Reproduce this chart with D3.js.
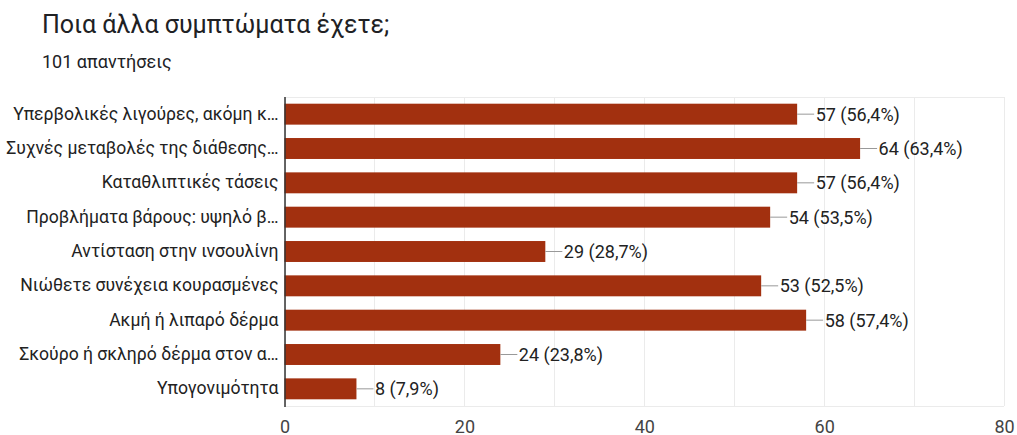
<!DOCTYPE html>
<html>
<head>
<meta charset="utf-8">
<script src="https://cdn.jsdelivr.net/npm/d3@7/dist/d3.min.js"></script>
<style>
  html, body { margin: 0; padding: 0; background: #fff; }
  svg { display: block; font-family: Roboto, "Noto Sans", Arial, sans-serif; }
</style>
</head>
<body>
<svg id="chart" width="1017" height="435"></svg>
<script>
// Survey answers: symptom labels (as shown, truncated), counts and percentages
const categories = [
  "Υπερβολικές λιγούρες, ακόμη κ…",
  "Συχνές μεταβολές της διάθεσης…",
  "Καταθλιπτικές τάσεις",
  "Προβλήματα βάρους: υψηλό β…",
  "Αντίσταση στην ινσουλίνη",
  "Νιώθετε συνέχεια κουρασμένες",
  "Ακμή ή λιπαρό δέρμα",
  "Σκούρο ή σκληρό δέρμα στον α…",
  "Υπογονιμότητα"
];
const counts = [57, 64, 57, 54, 29, 53, 58, 24, 8];
const percents = ["56,4%", "63,4%", "56,4%", "53,5%", "28,7%", "52,5%", "57,4%", "23,8%", "7,9%"];
const tickValues = [0, 20, 40, 60, 80];
const gridValues = [0, 10, 20, 30, 40, 50, 60, 70, 80];

const title = "Ποια άλλα συμπτώματα έχετε;";
const subtitle = "101 απαντήσεις";

const svg = d3.select("#chart");
const margin = { left: 284.5, right: 13, top: 97, bottom: 29 };
const W = 1017, H = 435;

const x = d3.scaleLinear().domain([0, 80]).range([margin.left, W - margin.right]);
const y = d3.scaleBand().domain(categories).range([margin.top, H - margin.bottom]).paddingInner(0.39).paddingOuter(0.195);

// Heading
svg.append("text").attr("x", 42).attr("y", 32.5)
  .attr("font-size", 25).attr("fill", "#202124").text(title);
svg.append("text").attr("x", 42).attr("y", 68)
  .attr("font-size", 18).attr("fill", "#202124").text(subtitle);

// Vertical gridlines
svg.append("g").selectAll("line").data(gridValues).join("line")
  .attr("x1", d => Math.round(x(d)) + 0.5).attr("x2", d => Math.round(x(d)) + 0.5)
  .attr("y1", margin.top).attr("y2", H - margin.bottom)
  .attr("stroke", "#ebebeb").attr("stroke-width", 1);

// Top and bottom frame lines
svg.append("line").attr("x1", margin.left).attr("x2", x(80))
  .attr("y1", margin.top + 0.5).attr("y2", margin.top + 0.5).attr("stroke", "#ebebeb");
svg.append("line").attr("x1", margin.left).attr("x2", x(80))
  .attr("y1", H - margin.bottom + 0.5).attr("y2", H - margin.bottom + 0.5).attr("stroke", "#ebebeb");

// Bars
const rows = categories.map((c, i) => ({ c, v: counts[i], p: percents[i] }));
svg.append("g").selectAll("rect").data(rows).join("rect")
  .attr("x", x(0)).attr("y", d => y(d.c))
  .attr("width", d => x(d.v) - x(0)).attr("height", y.bandwidth())
  .attr("fill", "#a2300f");

// Leader lines and value labels
const lab = svg.append("g");
lab.selectAll("line").data(rows).join("line")
  .attr("x1", d => x(d.v)).attr("x2", d => x(d.v) + 17)
  .attr("y1", d => y(d.c) + y.bandwidth() / 2).attr("y2", d => y(d.c) + y.bandwidth() / 2)
  .attr("stroke", "#999").attr("stroke-width", 1);
lab.selectAll("text").data(rows).join("text")
  .attr("x", d => x(d.v) + 18.5).attr("y", d => y(d.c) + y.bandwidth() / 2)
  .attr("dy", "0.36em").attr("font-size", 18).attr("fill", "#222")
  .text(d => `${d.v} (${d.p})`);

// Category axis
const yAxis = svg.append("g").attr("transform", `translate(${margin.left},0)`)
  .call(d3.axisLeft(y).tickSize(0).tickPadding(6));
yAxis.select(".domain").remove();
yAxis.selectAll("text").attr("font-size", 17.6).attr("fill", "#222")
  .attr("font-family", "Roboto, 'Noto Sans', Arial, sans-serif");
svg.append("line").attr("x1", margin.left + 0.5).attr("x2", margin.left + 0.5)
  .attr("y1", margin.top).attr("y2", H - margin.bottom + 1)
  .attr("stroke", "#333").attr("stroke-width", 1.5);

// Value axis
const xAxis = svg.append("g").attr("transform", `translate(0,${H - margin.bottom})`)
  .call(d3.axisBottom(x).tickValues(tickValues).tickSize(0).tickPadding(0));
xAxis.select(".domain").remove();
xAxis.selectAll("text").attr("dy", null).attr("y", 26.5)
  .attr("font-size", 18).attr("fill", "#444")
  .attr("font-family", "Roboto, 'Noto Sans', Arial, sans-serif");
</script>
</body>
</html>
